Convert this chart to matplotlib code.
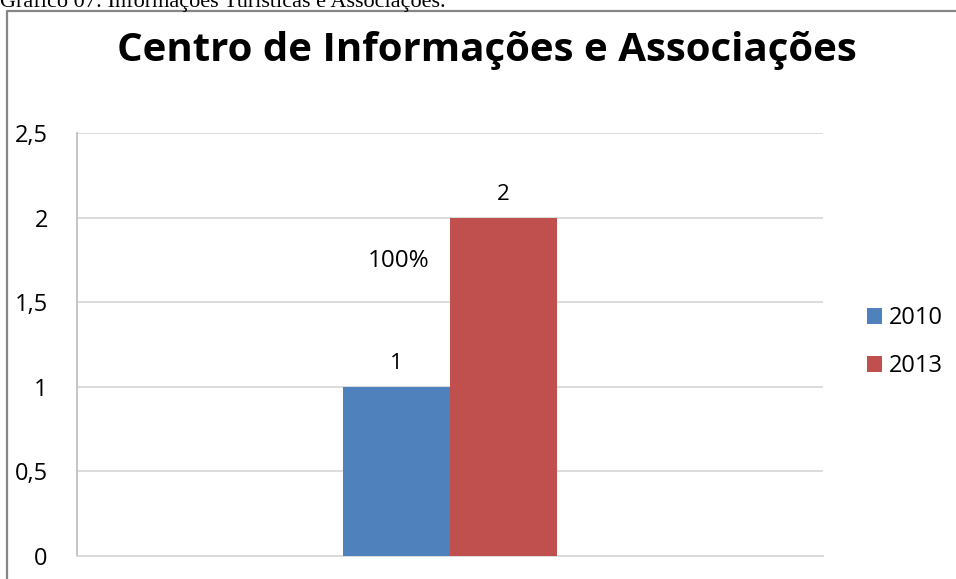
import matplotlib.pyplot as plt
import numpy as np

# data
categories = [""]
series = ["2010", "2013"]
values_2010 = [1]
values_2013 = [2]
colors = ["#4F81BD", "#C0504D"]
yticks = [0, 0.5, 1, 1.5, 2, 2.5]
ytick_labels = ["0", "0,5", "1", "1,5", "2", "2,5"]

W, H = 956, 579
fig = plt.figure(figsize=(W / 100, H / 100), dpi=100)

# axes position in pixels: left 77, right 823, top 133, bottom 556
ax = fig.add_axes([77 / W, 1 - 556 / H, (823 - 77) / W, (556 - 133) / H])

x = np.arange(len(categories))
bw = 0.1435
b1 = ax.bar(x - bw / 2, values_2010, bw, color=colors[0], label=series[0], zorder=3)
b2 = ax.bar(x + bw / 2, values_2013, bw, color=colors[1], label=series[1], zorder=3)

for bars in (b1, b2):
    for r in bars:
        ax.annotate(str(int(r.get_height())), (r.get_x() + r.get_width() / 2, r.get_height()),
                    xytext=(0, 13), textcoords="offset points", ha="center", va="baseline",
                    fontsize=16, family="Open Sans")

ax.text(x[0] - bw * 0.48, 1.745, "100%", ha="center", va="center", fontsize=17.5, family="Open Sans")

ax.set_xlim(-0.5, 0.5)
ax.set_ylim(0, 2.5)
ax.set_yticks(yticks)
ax.set_yticklabels(ytick_labels, family="Open Sans", fontsize=17)
ax.set_xticks([])
ax.tick_params(axis="y", length=0, pad=21)
ax.grid(axis="y", color="#D9D9D9", linewidth=1.3, zorder=0)
for s in ["top", "right"]:
    ax.spines[s].set_visible(False)
ax.spines["left"].set_color("#BFBFBF")
ax.spines["left"].set_linewidth(1.3)
ax.spines["bottom"].set_color("#D9D9D9")
ax.spines["bottom"].set_linewidth(1.3)

fig.text(487 / W, 1 - 50 / H, "Centro de Informações e Associações", ha="center", va="center",
         fontsize=29, fontweight="bold", family="Open Sans")

leg = fig.legend(loc="upper left", bbox_to_anchor=(846 / W, 1 - 285 / H), frameon=False,
                 prop={"family": "Open Sans", "size": 17}, handlelength=0.62, handleheight=0.62,
                 handletextpad=0.3, labelspacing=1.02)

# partial caption above the frame and the chart border
fig.text(0, 1 - 6.5 / H, "Gráfico 07: Informações Turísticas e Associações.", ha="left",
         va="baseline", fontsize=16, family="Liberation Serif")
fig.add_artist(plt.Line2D([7 / W, 7 / W, 1], [0, 1 - 10.5 / H, 1 - 10.5 / H],
                          transform=fig.transFigure, color="#868686", linewidth=1.6))

fig.savefig("out.png", dpi=100)
